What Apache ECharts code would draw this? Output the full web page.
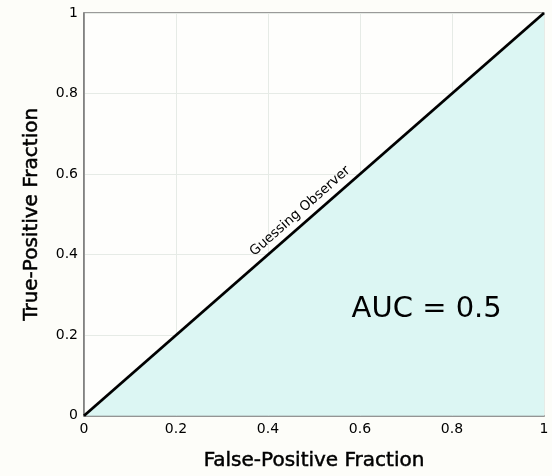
<!DOCTYPE html>
<html>
<head>
<meta charset="utf-8">
<script src="https://cdn.jsdelivr.net/npm/echarts@6/dist/echarts.min.js"></script>
<style>
  html, body { margin: 0; padding: 0; background: #fdfdf9; }
  #main { width: 552px; height: 476px; }
</style>
</head>
<body>
<div id="main"></div>
<script>
// guessing observer diagonal
const fpf = [0, 1];
const tpf = [0, 1];
const axisTicks = [0, 0.2, 0.4, 0.6, 0.8, 1];
// annotations in data coordinates
const guessLabel = { text: 'Guessing Observer', x: 0.47, y: 0.508 };
const aucLabel = { text: 'AUC = 0.5', x: 0.745, y: 0.265 };

const chart = echarts.init(document.getElementById('main'), null, { renderer: 'canvas' });

const fontFamily = '"DejaVu Sans", sans-serif';
const fmt = v => (axisTicks.indexOf(v) >= 0 ? String(v) : '');
// slightly heavier titles, like the original's medium face
const titleStyle = { fontSize: 20, color: '#000', fontFamily, textBorderColor: '#000', textBorderWidth: 0.5 };

const option = {
    backgroundColor: '#fdfdf9',
    grid: { left: 84, right: 8, top: 13, bottom: 58, show: true, backgroundColor: '#fefefc', borderColor: '#7a7a7a', borderWidth: 1.5 },
    xAxis: {
        type: 'value', min: 0, max: 1, interval: 0.2,
        name: 'False-Positive Fraction', nameLocation: 'middle', nameGap: 35,
        nameTextStyle: titleStyle,
        axisLine: { show: true, lineStyle: { color: '#7a7a7a', width: 1.5 } },
        axisTick: { show: false },
        axisLabel: { color: '#000', fontSize: 14, fontFamily, margin: 7, formatter: fmt },
        splitLine: { show: true, lineStyle: { color: '#e6ebe6', width: 1 } }
    },
    yAxis: {
        type: 'value', min: 0, max: 1, interval: 0.2,
        name: 'True-Positive Fraction', nameLocation: 'middle', nameGap: 42,
        nameTextStyle: titleStyle,
        axisLine: { show: true, lineStyle: { color: '#7a7a7a', width: 1.5 } },
        axisTick: { show: false },
        axisLabel: { color: '#000', fontSize: 14, fontFamily, margin: 6, formatter: fmt },
        splitLine: { show: true, lineStyle: { color: '#e6ebe6', width: 1 } }
    },
    series: [
        {
            type: 'line',
            data: fpf.map((x, i) => [x, tpf[i]]),
            symbol: 'none',
            lineStyle: { color: '#000', width: 2.8 },
            areaStyle: { color: '#dcf6f3', opacity: 1 },
            z: 3
        },
        {
            type: 'scatter',
            symbolSize: 0,
            silent: true,
            itemStyle: { opacity: 1 },
            data: [[guessLabel.x, guessLabel.y]],
            label: {
                show: true, position: 'inside', rotate: 41.4,
                formatter: guessLabel.text,
                fontSize: 13.5, color: '#000', fontFamily
            },
            z: 4
        },
        {
            type: 'scatter',
            symbolSize: 0,
            silent: true,
            itemStyle: { opacity: 1 },
            data: [[aucLabel.x, aucLabel.y]],
            label: {
                show: true, position: 'inside',
                formatter: aucLabel.text,
                fontSize: 29, color: '#000', fontFamily
            },
            z: 4
        }
    ]
};

chart.setOption(option, true);
</script>
</body>
</html>
